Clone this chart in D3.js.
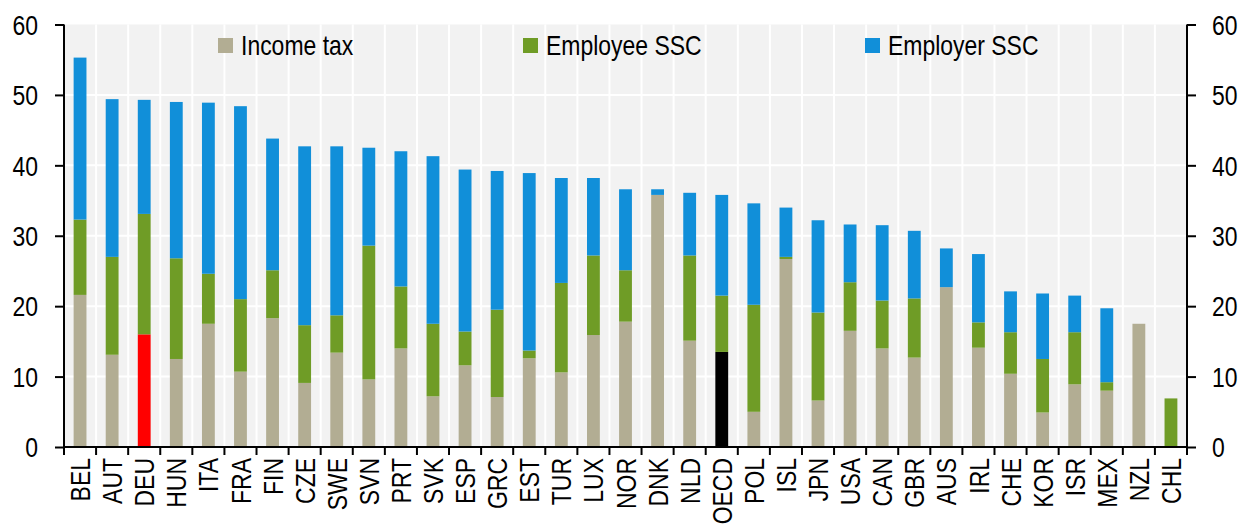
<!DOCTYPE html>
<html>
<head>
<meta charset="utf-8">
<script src="https://cdn.jsdelivr.net/npm/d3@7"></script>
<style>
  body { margin: 0; background: #fff; }
  text { font-family: "Liberation Sans", Arial, sans-serif; }
</style>
</head>
<body>
<div id="chart"></div>
<script>
const width = 1242;
const height = 525;

// Tax wedge components, % of labour costs
const countries = ["BEL", "AUT", "DEU", "HUN", "ITA", "FRA", "FIN", "CZE", "SWE", "SVN", "PRT", "SVK",
    "ESP", "GRC", "EST", "TUR", "LUX", "NOR", "DNK", "NLD", "OECD", "POL", "ISL", "JPN", "USA",
    "CAN", "GBR", "AUS", "IRL", "CHE", "KOR", "ISR", "MEX", "NZL", "CHL"];
const incomeTax = [21.6, 13.1, 16.0, 12.5, 17.5, 10.7, 18.3, 9.1, 13.4, 9.6, 14.0, 7.2,
    11.6, 7.1, 12.6, 10.6, 15.9, 17.8, 35.8, 15.1, 13.5, 5.0, 26.7, 6.6, 16.5,
    14.0, 12.7, 22.7, 14.1, 10.4, 4.9, 8.9, 8.0, 17.5, 0];
const employeeSSC = [10.7, 13.9, 17.1, 14.3, 7.1, 10.3, 6.8, 8.2, 5.3, 19.0, 8.8, 10.3,
    4.8, 12.4, 1.1, 12.7, 11.3, 7.3, 0, 12.1, 8.0, 15.2, 0.3, 12.5, 6.9,
    6.8, 8.4, 0, 3.6, 5.9, 7.6, 7.4, 1.2, 0, 6.9];
const employerSSC = [23.0, 22.4, 16.2, 22.2, 24.3, 27.4, 18.7, 25.4, 24.0, 13.9, 19.2, 23.8,
    23.0, 19.7, 25.2, 14.9, 11.0, 11.5, 0.8, 8.9, 14.3, 14.4, 7.0, 13.1, 8.2,
    10.7, 9.6, 5.5, 9.7, 5.8, 9.3, 5.2, 10.5, 0, 0];
const seriesNames = ["Income tax", "Employee SSC", "Employer SSC"];
const yTicks = [0, 10, 20, 30, 40, 50, 60];

const colors = ["#b2ad93", "#6f9c26", "#118fd9"];
const highlight = { DEU: "#ff0000", OECD: "#000000" };
const squeeze = 0.82; // narrow font look
const fontSize = 28;

const margin = { top: 24.5, right: 55, bottom: 78, left: 64 };
const innerW = width - margin.left - margin.right;
const innerH = height - margin.top - margin.bottom;

const svg = d3.select("#chart").append("svg")
    .attr("width", width)
    .attr("height", height);

const g = svg.append("g")
    .attr("transform", `translate(${margin.left},${margin.top})`);

const x = d3.scaleBand()
    .domain(countries)
    .range([0, innerW]);

const y = d3.scaleLinear()
    .domain([0, 60])
    .range([innerH, 0]);

// plot background
g.append("rect")
    .attr("width", innerW)
    .attr("height", innerH)
    .attr("fill", "#f2f2f2");

// grid lines
g.append("g")
    .selectAll("line")
    .data(yTicks.slice(1, -1))
    .join("line")
        .attr("x1", 0)
        .attr("x2", innerW)
        .attr("y1", d => y(d))
        .attr("y2", d => y(d))
        .attr("stroke", "#fff")
        .attr("stroke-width", 2);

g.append("g")
    .selectAll("line")
    .data(countries.slice(1))
    .join("line")
        .attr("x1", d => x(d))
        .attr("x2", d => x(d))
        .attr("y1", 0)
        .attr("y2", innerH)
        .attr("stroke", "#fff")
        .attr("stroke-width", 2);

// stacked bars
const rows = countries.map((c, i) => ({
    country: c,
    "Income tax": incomeTax[i],
    "Employee SSC": employeeSSC[i],
    "Employer SSC": employerSSC[i]
}));
const stacked = d3.stack().keys(seriesNames)(rows);
const barW = x.bandwidth() * 0.4;

g.append("g")
    .selectAll("g")
    .data(stacked)
    .join("g")
    .selectAll("rect")
    .data((s, si) => s.map(d => ({ d: d, si: si })))
    .join("rect")
        .attr("x", o => x(o.d.data.country) + (x.bandwidth() - barW) / 2)
        .attr("width", barW)
        .attr("y", o => y(o.d[1]))
        .attr("height", o => Math.max(0, y(o.d[0]) - y(o.d[1])))
        .attr("fill", o => (o.si == 0 && highlight[o.d.data.country]) || colors[o.si]);

// axes
const yLeft = g.append("g")
    .call(d3.axisLeft(y).tickValues(yTicks).tickSize(9).tickPadding(0).tickFormat(d3.format("d")));
const yRight = g.append("g")
    .attr("transform", `translate(${innerW},0)`)
    .call(d3.axisRight(y).tickValues(yTicks).tickSize(9).tickPadding(0).tickFormat(d3.format("d")));

[yLeft, yRight].forEach(ax => {
    ax.select(".domain").attr("stroke", "#000").attr("stroke-width", 2)
        .attr("d", null);
    ax.selectAll(".tick line").attr("stroke", "#000").attr("stroke-width", 2);
});
yLeft.select(".domain").remove();
yRight.select(".domain").remove();
g.append("line").attr("x1", 0).attr("x2", 0).attr("y1", 0).attr("y2", innerH)
    .attr("stroke", "#000").attr("stroke-width", 2);
g.append("line").attr("x1", innerW).attr("x2", innerW).attr("y1", 0).attr("y2", innerH)
    .attr("stroke", "#000").attr("stroke-width", 2);

yLeft.selectAll(".tick text")
    .attr("x", null)
    .attr("dy", "0.35em")
    .attr("font-size", fontSize)
    .attr("fill", "#000")
    .attr("font-family", "Liberation Sans, Arial, sans-serif")
    .attr("text-anchor", "end")
    .attr("transform", `translate(-26,0) scale(${squeeze},1)`);
yRight.selectAll(".tick text")
    .attr("x", null)
    .attr("dy", "0.35em")
    .attr("font-size", fontSize)
    .attr("fill", "#000")
    .attr("font-family", "Liberation Sans, Arial, sans-serif")
    .attr("text-anchor", "start")
    .attr("transform", `translate(25,0) scale(${squeeze},1)`);

// x axis: ticks at category boundaries
const xAxis = g.append("g").attr("transform", `translate(0,${innerH})`);
xAxis.append("line")
    .attr("x1", 0).attr("x2", innerW)
    .attr("stroke", "#000").attr("stroke-width", 2);
xAxis.selectAll("line.bound")
    .data(countries.concat(["end"]))
    .join("line")
        .attr("class", "bound")
        .attr("x1", (d, i) => i * x.step())
        .attr("x2", (d, i) => i * x.step())
        .attr("y1", 0)
        .attr("y2", 8)
        .attr("stroke", "#000")
        .attr("stroke-width", 2);
xAxis.selectAll("text")
    .data(countries)
    .join("text")
        .attr("font-size", fontSize)
        .attr("text-anchor", "end")
        .attr("dy", "0.36em")
        .attr("transform", d => `translate(${x(d) + x.bandwidth() / 2},11) rotate(-90) scale(${squeeze},1)`)
        .text(d => d);

// legend
const legendX = [218, 523, 865];
const legend = svg.append("g");
seriesNames.forEach((name, i) => {
    legend.append("rect")
        .attr("x", legendX[i])
        .attr("y", 38)
        .attr("width", 15)
        .attr("height", 15)
        .attr("fill", colors[i]);
    legend.append("text")
        .attr("font-size", fontSize)
        .attr("transform", `translate(${legendX[i] + 23},55) scale(${squeeze},1)`)
        .text(name);
});
</script>
</body>
</html>
